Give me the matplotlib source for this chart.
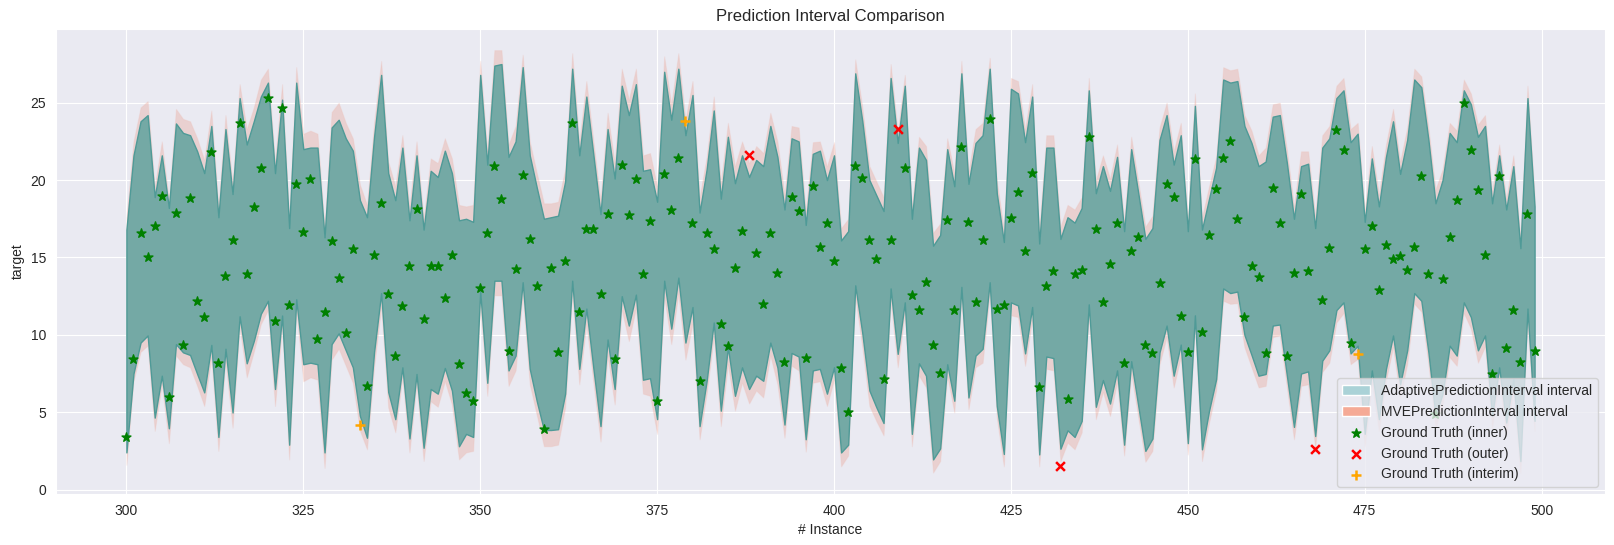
import numpy as np
import matplotlib
matplotlib.use("Agg")
import matplotlib.pyplot as plt
from matplotlib.patches import Patch
import seaborn as sns

# instance ids on the x axis
instances = list(range(300, 500))

# ground truth target per instance
ground_truth = [
    3.4, 8.44, 16.58, 15.06, 17.03, 18.98, 6.0, 17.88, 9.37, 18.85,
    12.16, 11.13, 21.82, 8.2, 13.77, 16.13, 23.66, 13.9, 18.25, 20.8,
    25.32, 10.87, 24.68, 11.9, 19.76, 16.65, 20.09, 9.76, 11.5, 16.06,
    13.66, 10.09, 15.54, 4.18, 6.69, 15.15, 18.53, 12.66, 8.6, 11.84,
    14.44, 18.14, 11.0, 14.44, 14.44, 12.36, 15.15, 8.14, 6.21, 5.74,
    13.03, 16.6, 20.93, 18.79, 8.98, 14.24, 20.35, 16.19, 13.14, 3.94,
    14.3, 8.92, 14.76, 23.7, 11.45, 16.82, 16.82, 12.66, 17.81, 8.46,
    21.0, 17.75, 20.09, 13.92, 17.36, 5.74, 20.4, 18.07, 21.45, 23.8,
    17.25, 7.03, 16.6, 15.54, 10.7, 9.3, 14.3, 16.7, 21.6, 15.28,
    12.0, 16.6, 13.98, 8.27, 18.94, 18.0, 8.53, 19.6, 15.7, 17.2,
    14.76, 7.88, 5.02, 20.93, 20.15, 16.13, 14.9, 7.14, 16.13, 23.33,
    20.8, 12.55, 11.58, 13.4, 9.37, 7.51, 17.42, 11.58, 22.16, 17.3,
    12.1, 16.13, 23.98, 11.65, 11.9, 17.53, 19.24, 15.41, 20.45, 6.65,
    13.14, 14.1, 1.52, 5.87, 13.9, 14.18, 22.8, 16.82, 12.1, 14.57,
    17.25, 8.2, 15.41, 16.32, 9.33, 8.85, 13.33, 19.76, 18.92, 11.2,
    8.92, 21.39, 10.2, 16.45, 19.44, 21.45, 22.55, 17.49, 11.13, 14.44,
    13.72, 8.85, 19.5, 17.25, 8.6, 13.98, 19.13, 14.1, 2.6, 12.23,
    15.6, 23.27, 21.97, 9.48, 8.77, 15.54, 17.03, 12.88, 15.8, 14.9,
    15.09, 14.18, 15.65, 20.28, 13.9, 4.87, 13.6, 16.3, 18.7, 24.96,
    21.97, 19.35, 15.15, 7.47, 20.24, 9.16, 11.62, 8.27, 17.81, 8.98,
]

# AdaptivePredictionInterval bounds
adaptive_upper = [
    16.8, 21.6, 23.8, 24.2, 18.9, 21.6, 18.2, 23.66, 23.05, 22.9,
    21.86, 20.45, 23.5, 17.6, 23.3, 19.1, 25.3, 22.3, 23.8, 25.4,
    26.3, 20.45, 25.2, 16.9, 26.3, 22.0, 22.1, 22.1, 16.3, 23.4,
    23.9, 22.7, 21.9, 18.7, 17.6, 22.8, 26.8, 20.45, 18.7, 22.1,
    17.4, 21.6, 16.8, 20.6, 20.2, 21.9, 20.45, 17.4, 17.5, 17.3,
    26.8, 21.0, 27.4, 27.5, 21.5, 22.5, 27.3, 21.6, 19.5, 17.5,
    17.6, 17.7, 19.9, 27.2, 21.6, 25.4, 21.6, 17.8, 23.3, 20.1,
    26.1, 24.2, 26.2, 20.6, 20.7, 18.6, 27.0, 23.9, 27.2, 22.9,
    25.5, 17.9, 20.7, 24.5, 18.8, 22.8, 19.8, 21.6, 20.2, 21.3,
    20.9, 23.5, 21.5, 18.1, 22.7, 22.5, 17.1, 21.7, 21.9, 20.0,
    21.6, 16.1, 16.7, 26.9, 23.8, 20.0, 19.0, 18.0, 26.6, 22.4,
    26.1, 17.5, 22.1, 21.3, 15.76, 16.45, 22.0, 19.6, 26.9, 19.76,
    22.4, 22.9, 27.2, 19.15, 16.0, 25.9, 25.6, 22.45, 25.4, 15.9,
    22.1, 22.1, 16.2, 17.6, 17.25, 18.2, 25.8, 19.15, 20.9, 19.3,
    21.5, 16.7, 22.0, 19.15, 16.2, 16.9, 22.6, 24.2, 21.0, 22.9,
    16.7, 24.8, 16.8, 18.8, 20.8, 26.5, 26.3, 26.4, 23.5, 22.4,
    20.9, 21.2, 24.1, 24.2, 21.1, 17.5, 20.9, 21.06, 16.9, 22.1,
    22.7, 25.3, 25.8, 22.45, 23.0, 17.3, 21.4, 18.3, 21.5, 23.8,
    20.4, 22.6, 26.5, 26.0, 22.6, 18.5, 20.0, 23.05, 22.45, 25.8,
    24.9, 22.8, 23.5, 18.5, 21.6, 18.1, 20.9, 15.6, 25.3, 18.3,
]
adaptive_lower = [
    2.4, 7.5, 9.5, 9.96, 4.65, 7.36, 3.96, 9.4, 8.87, 8.7,
    7.47, 6.28, 9.35, 3.4, 9.1, 4.98, 11.2, 8.16, 9.6, 11.36,
    12.2, 6.5, 11.25, 2.9, 12.3, 8.1, 8.2, 8.1, 2.4, 9.4,
    10.1, 9.0, 7.9, 4.76, 3.35, 8.9, 12.7, 6.3, 4.55, 7.9,
    3.3, 7.47, 2.7, 6.5, 6.2, 7.86, 6.4, 2.8, 3.6, 3.4,
    12.8, 6.9, 13.5, 13.5, 7.7, 8.66, 13.4, 7.8, 5.7, 3.85,
    3.85, 3.9, 6.2, 13.5, 7.8, 11.7, 7.8, 4.1, 9.7, 6.5,
    12.5, 10.6, 12.6, 7.1, 7.2, 4.55, 13.5, 10.4, 13.7, 9.5,
    11.8, 4.1, 7.03, 10.8, 5.1, 9.2, 6.06, 7.9, 6.5, 7.36,
    7.03, 9.5, 7.9, 4.2, 8.83, 8.6, 3.25, 7.7, 7.8, 6.2,
    7.9, 2.4, 2.9, 13.2, 10.1, 6.4, 5.3, 4.3, 13.0, 8.77,
    12.1, 3.6, 8.16, 7.36, 1.95, 2.66, 8.1, 5.74, 13.1, 5.95,
    8.66, 9.1, 13.4, 5.4, 2.3, 12.1, 11.9, 8.8, 11.8, 2.27,
    8.6, 8.5, 2.64, 3.83, 3.4, 4.44, 11.97, 5.35, 7.08, 5.56,
    7.7, 2.9, 8.3, 5.4, 2.5, 3.3, 8.87, 10.6, 7.36, 9.37,
    3.0, 11.26, 2.6, 5.1, 7.14, 13.0, 12.7, 12.8, 10.0, 8.7,
    7.36, 7.47, 10.6, 10.67, 7.36, 4.05, 7.5, 7.64, 3.46, 8.33,
    9.0, 11.6, 12.1, 8.8, 9.3, 3.6, 7.7, 4.55, 7.8, 9.96,
    6.8, 9.0, 12.7, 12.2, 8.87, 4.76, 6.2, 9.3, 8.66, 12.1,
    11.15, 9.0, 9.96, 4.76, 7.9, 4.33, 7.14, 1.84, 11.7, 4.44,
]

# MVEPredictionInterval bounds
mve_upper = [
    17.6, 22.5, 24.7, 25.1, 19.6, 22.5, 18.7, 24.6, 23.96, 23.8,
    22.7, 21.3, 24.5, 18.3, 24.2, 19.8, 26.2, 23.3, 24.7, 26.5,
    27.2, 21.2, 26.2, 17.6, 27.3, 23.0, 23.2, 23.0, 17.0, 24.4,
    25.0, 23.7, 22.7, 19.7, 18.4, 23.7, 27.7, 21.2, 19.6, 22.9,
    18.3, 22.5, 17.5, 21.4, 21.1, 22.7, 21.4, 18.4, 18.3, 18.4,
    27.7, 21.9, 28.4, 28.4, 22.3, 23.5, 28.1, 22.5, 20.45, 18.5,
    18.5, 18.6, 20.7, 28.2, 22.5, 26.4, 22.5, 18.7, 24.35, 21.1,
    27.2, 25.2, 27.2, 21.6, 21.75, 19.6, 28.0, 24.9, 28.2, 23.9,
    26.4, 18.9, 21.5, 25.4, 19.8, 23.7, 20.9, 22.5, 21.1, 22.2,
    21.75, 24.35, 22.5, 19.05, 23.5, 23.4, 18.0, 22.45, 22.5, 20.9,
    22.45, 16.9, 17.5, 27.8, 24.7, 20.9, 19.9, 18.9, 27.5, 23.1,
    26.8, 18.3, 22.8, 22.2, 16.6, 17.2, 22.7, 20.45, 27.7, 20.56,
    23.3, 23.7, 27.9, 20.0, 16.8, 26.6, 26.4, 23.3, 26.2, 16.8,
    22.9, 22.9, 17.0, 18.4, 18.1, 18.9, 26.6, 20.0, 21.6, 20.1,
    22.3, 17.4, 22.8, 19.9, 17.0, 17.7, 23.4, 25.0, 21.86, 23.7,
    17.4, 25.6, 17.6, 19.6, 21.5, 27.3, 27.1, 27.2, 24.2, 23.2,
    21.6, 22.1, 24.9, 25.0, 21.97, 18.3, 21.86, 21.86, 17.7, 22.9,
    23.5, 26.1, 26.6, 23.3, 23.7, 18.1, 22.2, 19.05, 22.3, 24.6,
    21.2, 23.4, 27.2, 26.7, 23.4, 19.4, 20.7, 23.7, 23.2, 26.5,
    25.6, 23.6, 24.2, 19.3, 22.3, 18.8, 21.6, 16.3, 26.1, 19.05,
]
mve_lower = [
    1.6, 7.0, 8.9, 9.3, 3.8, 6.8, 3.0, 8.66, 8.1, 7.9,
    6.7, 5.4, 8.55, 2.5, 8.3, 4.0, 10.5, 7.25, 8.9, 10.7,
    11.6, 5.4, 10.5, 1.95, 11.6, 7.0, 7.25, 7.1, 1.4, 8.4,
    9.1, 8.0, 6.9, 3.8, 2.6, 7.9, 11.8, 5.3, 3.7, 7.25,
    2.4, 6.8, 1.85, 5.7, 5.35, 7.0, 5.5, 1.95, 2.4, 2.5,
    11.9, 6.06, 12.55, 12.55, 6.7, 7.7, 12.55, 6.8, 4.8, 2.8,
    2.8, 2.9, 5.3, 12.55, 6.8, 10.7, 6.9, 3.1, 8.66, 5.5,
    11.6, 9.6, 11.7, 6.2, 6.06, 3.6, 12.45, 9.4, 12.66, 8.4,
    10.7, 3.25, 6.2, 9.85, 4.1, 8.1, 5.1, 6.9, 5.56, 6.4,
    5.95, 8.66, 6.8, 3.35, 8.0, 7.7, 2.45, 6.9, 7.0, 5.4,
    7.1, 1.5, 2.2, 12.45, 9.2, 5.4, 4.4, 3.5, 12.2, 7.9,
    11.4, 2.8, 7.36, 6.6, 1.1, 1.84, 7.36, 4.98, 12.3, 5.2,
    7.9, 8.2, 12.66, 4.65, 1.5, 11.26, 11.15, 8.0, 11.0, 1.5,
    7.8, 7.7, 1.84, 3.03, 2.6, 3.7, 11.2, 4.55, 6.3, 4.76,
    6.9, 2.2, 7.5, 4.65, 1.8, 2.5, 8.1, 9.85, 6.6, 8.55,
    2.27, 10.5, 1.84, 4.33, 6.4, 12.2, 12.0, 12.05, 9.2, 7.9,
    6.6, 6.7, 9.85, 9.96, 6.6, 3.25, 6.7, 6.8, 2.7, 7.6,
    8.2, 10.8, 11.4, 8.1, 8.44, 2.8, 6.9, 3.8, 7.03, 9.2,
    5.95, 8.1, 12.0, 11.5, 8.1, 4.0, 5.5, 8.55, 8.0, 11.4,
    10.4, 8.2, 9.24, 4.0, 7.14, 3.57, 6.4, 1.08, 10.9, 3.8,
]

# instances whose ground truth falls outside both intervals / only in the wider one
outer_ids = [388, 409, 432, 468]
interim_ids = [333, 379, 474]

sns.set_style("darkgrid")
plt.rcParams["font.family"] = ["Liberation Sans", "DejaVu Sans"]

x = np.array(instances)
gt = np.array(ground_truth)
is_outer = np.isin(x, outer_ids)
is_interim = np.isin(x, interim_ids)
is_inner = ~(is_outer | is_interim)

fig, ax = plt.subplots(figsize=(16.14, 5.45), dpi=100)

ax.fill_between(x, mve_lower, mve_upper, color="#e8846c", alpha=0.25, lw=0.8,
                edgecolor="#f0bdb4")
ax.fill_between(x, adaptive_lower, adaptive_upper, facecolor="#74a9a5",
                edgecolor="#4f9a97", lw=1.0)

s_in = ax.scatter(x[is_inner], gt[is_inner], marker="*", color="green", s=45,
                  zorder=3, label="Ground Truth (inner)")
s_out = ax.scatter(x[is_outer], gt[is_outer], marker="x", color="red", s=40,
                   lw=1.8, zorder=3, label="Ground Truth (outer)")
s_mid = ax.scatter(x[is_interim], gt[is_interim], marker="+", color="orange",
                   s=45, lw=1.8, zorder=3, label="Ground Truth (interim)")

handles = [
    Patch(facecolor="#aad2d7", label="AdaptivePredictionInterval interval"),
    Patch(facecolor="#f5aa96", label="MVEPredictionInterval interval"),
    s_in, s_out, s_mid,
]
ax.legend(handles=handles, loc="lower right", fontsize=10)

ax.set_xticks(range(300, 501, 25))
ax.set_yticks(range(0, 26, 5))
ax.set_title("Prediction Interval Comparison", fontsize=12)
ax.set_xlabel("# Instance")
ax.set_ylabel("target")

fig.subplots_adjust(left=0.0347, right=0.9944, top=0.9468, bottom=0.0936)
fig.savefig("out.png", dpi=100)
